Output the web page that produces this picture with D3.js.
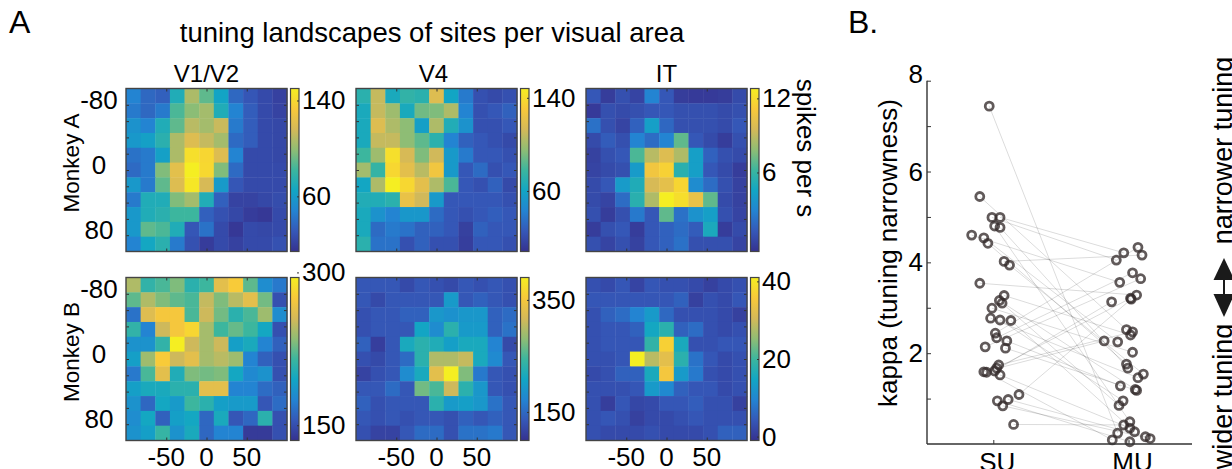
<!DOCTYPE html>
<html>
<head>
<meta charset="utf-8">
<script src="https://cdn.jsdelivr.net/npm/d3@7"></script>
<style>
  body { margin: 0; background: #fff; }
  svg text { font-family: "Liberation Sans", Arial, Helvetica, sans-serif; fill: #000; }
</style>
</head>
<body>
<svg id="fig" width="1232" height="469"></svg>
<script>
// ---- data -------------------------------------------------------------
var figTitle = "tuning landscapes of sites per visual area";
var areas = ["V1/V2", "V4", "IT"];
var monkeys = ["Monkey A", "Monkey B"];
var xTicks = [-50, 0, 50];
var yTicks = [-80, 0, 80];

// mean firing rate (spikes/s) per stimulus position, 11 x 11 grid, rows top to bottom
var mapA_V1V2 = [
  [48,37,34,71,106,89,64,37,30,25,21],
  [44,37,44,85,98,104,71,48,33,25,22],
  [55,48,71,89,109,104,113,44,33,25,24],
  [58,62,75,106,120,112,104,38,33,25,24],
  [41,44,62,106,143,139,120,48,25,25,24],
  [38,44,96,123,150,140,96,38,25,25,25],
  [58,44,89,120,147,117,59,30,25,25,25],
  [44,71,71,96,104,71,34,22,22,24,26],
  [58,71,75,82,82,34,28,24,19,17,25],
  [58,89,85,71,30,41,25,17,25,24,25],
  [48,66,75,44,28,19,25,21,25,25,28]
];
var mapA_V4 = [
  [71,109,64,74,71,117,60,39,22,19,22],
  [64,109,99,64,89,92,103,43,22,25,29],
  [64,117,103,95,57,103,67,50,22,22,25],
  [64,109,109,95,85,71,43,29,25,22,19],
  [78,99,141,114,92,112,54,39,25,25,22],
  [100,75,137,120,106,127,54,25,33,22,25],
  [61,103,148,137,120,103,81,25,22,29,19],
  [67,67,71,123,112,54,25,25,25,25,22],
  [64,50,43,53,53,33,25,22,25,28,25],
  [64,33,39,36,29,29,25,15,29,25,25],
  [71,36,36,22,29,22,22,14,25,25,22]
];
var mapA_IT = [
  [1.2,0.1,0.9,0.4,2.9,1.2,0.1,0.0,0.0,0.1,0.7],
  [0.0,0.9,0.7,0.9,1.2,1.2,0.9,0.9,0.9,0.7,0.9],
  [2.2,0.9,0.4,1.6,4.2,1.8,0.9,0.9,0.9,0.7,1.2],
  [0.7,1.4,0.9,2.9,2.0,2.9,6.9,1.2,0.7,0.1,0.9],
  [0.3,0.9,1.2,6.5,8.8,9.9,8.6,4.2,1.6,0.9,0.7],
  [0.4,0.7,0.9,4.0,10.8,11.5,5.5,4.2,1.2,0.7,0.1],
  [0.7,1.2,4.0,5.1,9.6,10.2,11.7,3.3,2.0,0.9,0.3],
  [0.7,0.4,2.0,5.5,8.6,12.8,12.1,10.4,6.9,0.7,0.3],
  [0.9,0.1,0.9,2.5,1.2,6.9,2.2,3.6,4.2,0.9,0.4],
  [0.1,0.9,1.2,0.1,1.2,1.6,2.0,1.4,4.9,0.1,0.7],
  [0.9,0.4,0.9,0.3,1.2,1.6,2.2,0.9,0.9,0.9,0.4]
];
var mapB_V1V2 = [
  [244,210,218,231,207,215,263,276,223,180,170],
  [223,244,231,223,218,250,231,247,263,228,151],
  [167,260,273,273,218,253,228,207,218,239,180],
  [210,175,253,273,282,241,215,225,215,196,151],
  [183,183,210,295,253,241,253,191,199,175,159],
  [191,239,276,253,263,241,247,239,175,159,151],
  [170,218,263,202,231,228,231,196,178,183,151],
  [191,199,199,207,207,263,263,175,175,164,159],
  [183,162,196,188,215,207,191,188,188,154,164],
  [180,196,159,191,196,162,199,154,162,207,151],
  [183,191,212,183,199,162,175,175,140,140,151]
];
var mapB_V4 = [
  [134,134,134,122,134,128,122,134,128,134,128],
  [134,122,134,134,134,134,195,134,143,134,128],
  [128,134,134,143,143,192,186,192,192,143,151],
  [128,134,134,134,207,180,230,195,195,143,157],
  [143,111,134,215,230,221,201,215,215,172,122],
  [128,122,134,151,230,297,297,309,215,178,134],
  [116,128,134,180,215,332,390,274,163,134,128],
  [134,134,151,134,268,250,314,230,192,134,128],
  [143,128,134,134,134,230,195,201,192,157,134],
  [134,128,134,128,134,134,128,143,134,143,134],
  [128,116,116,134,151,151,128,157,157,163,134]
];
var mapB_IT = [
  [3.2,2.4,4.0,1.5,4.0,3.2,3.2,2.4,1.1,2.4,3.2],
  [4.0,4.0,4.0,4.0,4.0,4.0,5.3,1.1,3.2,2.4,4.0],
  [3.2,5.3,6.6,9.5,12.9,6.1,3.2,3.2,3.2,2.4,1.1],
  [3.2,4.0,4.0,5.3,15.0,17.9,5.3,6.6,3.2,2.4,3.2],
  [3.2,4.0,4.0,4.0,18.7,36.8,15.8,3.2,3.2,4.0,4.0],
  [3.2,3.2,4.0,41.0,28.4,32.6,17.9,7.4,4.0,2.4,3.2],
  [2.4,3.2,5.3,5.3,15.8,35.1,12.9,8.2,3.2,2.4,3.2],
  [3.2,3.2,3.2,4.0,12.9,10.3,5.3,4.0,4.0,2.4,3.2],
  [3.2,0.7,4.0,1.9,2.4,4.0,4.0,4.9,3.2,3.2,1.1],
  [3.2,4.0,3.2,1.1,2.4,2.4,3.2,4.0,3.2,3.2,3.2],
  [3.2,2.4,2.4,2.4,3.2,2.4,2.4,2.4,3.2,5.3,5.3]
];

// colour limits and colorbar labels, same order (A: V1/V2, V4, IT, then B)
var cbarLimits = [[14,150],[8,148],[-0.4,12.8],[135,295],[99,390],[-1,41]];
var cbarTicks = [[60,140],[60,140],[6,12],[150,300],[150,350],[0,20,40]];
var cbarTitle = "spikes per s";

// panel B: kappa for single units and multi units of the same site
var groups = ["SU", "MU"];
var kappaTicks = [2, 4, 6, 8];
var suKappa  = [7.44,5.45,4.99,4.99,4.80,4.77,4.60,4.54,4.42,4.02,3.94,3.54,3.27,3.16,3.10,2.99,2.77,2.73,2.72,2.44,2.34,2.27,2.14,2.11,1.74,1.67,1.59,1.58,1.61,1.52,0.95,0.98,0.84,1.09,0.43];
var suJitter = [-0.03,-0.10,-0.01,0.05,0.01,0.05,-0.16,-0.07,-0.04,0.08,0.12,-0.10,0.08,0.045,0.065,-0.01,-0.02,0.05,0.13,0.015,0.025,0.10,-0.06,0.09,0.04,0.025,-0.07,-0.05,0.01,0.05,0.03,0.11,0.07,0.19,0.15];
var muKappa  = [0.24,2.52,4.05,4.21,0.49,1.67,3.56,2.25,1.76,4.16,1.54,3.28,2.40,1.20,0.85,2.02,1.46,0.95,0.27,4.33,3.77,1.28,3.64,1.18,2.47,3.21,2.27,0.09,3.13,0.35,0.05,0.16,0.12,3.19,0.42];
var muJitter = [-0.08,-0.015,-0.09,-0.035,0.01,-0.005,-0.065,-0.08,-0.015,0.10,0.11,0.06,0.015,0.05,-0.07,0.03,0.07,-0.04,0.045,0.07,0.03,-0.06,0.09,0.06,0.03,0.015,-0.18,-0.12,-0.125,0.01,0.01,0.125,0.16,0.02,-0.035];

// parula-like map, toned down the way the printed figure looks
var parula = ["#36318f","#3558b8","#2384d2","#12a6c4","#3cb69e","#90bd74","#d5b958","#f8c93a","#f5ee22"];

// ---- drawing ----------------------------------------------------------
var svg = d3.select("#fig");
var maps = [[mapA_V1V2, mapA_V4, mapA_IT], [mapB_V1V2, mapB_V4, mapB_IT]];

var mapW = 161, mapH = 163, cbW = 8.5, cbGap = 3.5;
var colX = [126, 356, 586];
var rowY = [88.5, 277.5];

function clean(sel) { sel.select(".domain").remove(); }

svg.append("text").attr("x", 9).attr("y", 33).attr("font-size", 32).text("A");
svg.append("text").attr("x", 848).attr("y", 33).attr("font-size", 32).text("B.");
svg.append("text")
    .attr("x", 432).attr("y", 42)
    .attr("text-anchor", "middle")
    .attr("font-size", 27.5)
    .text(figTitle);

var grad = svg.append("defs").append("linearGradient")
    .attr("id", "parula")
    .attr("x1", 0).attr("y1", 1).attr("x2", 0).attr("y2", 0);
grad.selectAll("stop")
    .data(parula)
    .enter().append("stop")
    .attr("offset", function(d, i) { return i / (parula.length - 1); })
    .attr("stop-color", function(d) { return d; });

function drawMap(m, r, c) {
    var k = r * areas.length + c;
    var x0 = colX[c], y0 = rowY[r];
    var lim = cbarLimits[k];
    var g = svg.append("g").attr("color", "#333");

    var x = d3.scaleLinear().domain([-100, 100]).range([x0, x0 + mapW]);
    var y = d3.scaleLinear().domain([-100, 100]).range([y0, y0 + mapH]);
    var bx = d3.scaleBand().domain(d3.range(m[0].length)).range([x0, x0 + mapW]);
    var by = d3.scaleBand().domain(d3.range(m.length)).range([y0, y0 + mapH]);
    var color = d3.scaleLinear()
        .domain(parula.map(function(d, i) { return lim[0] + i * (lim[1] - lim[0]) / (parula.length - 1); }))
        .range(parula)
        .clamp(true);

    var cells = [];
    m.forEach(function(row, i) {
        row.forEach(function(v, j) { cells.push({i: i, j: j, v: v}); });
    });

    g.selectAll(".cell")
        .data(cells)
        .enter().append("rect")
        .attr("class", "cell")
        .attr("x", function(d) { return bx(d.j); })
        .attr("y", function(d) { return by(d.i); })
        .attr("width", bx.bandwidth() + 0.4)
        .attr("height", by.bandwidth() + 0.4)
        .attr("fill", function(d) { return color(d.v); });

    var yMinor = d3.range(-80, 81, 20);
    g.append("g").attr("transform", "translate(0," + y0 + ")")
        .call(d3.axisTop(x).tickValues(xTicks).tickSize(-3).tickFormat("")).call(clean);
    g.append("g").attr("transform", "translate(0," + (y0 + mapH) + ")")
        .call(d3.axisBottom(x).tickValues(xTicks).tickSize(-3).tickFormat("")).call(clean);
    g.append("g").attr("transform", "translate(" + x0 + ",0)")
        .call(d3.axisLeft(y).tickValues(yMinor).tickSize(-3).tickFormat("")).call(clean);
    g.append("g").attr("transform", "translate(" + (x0 + mapW) + ",0)")
        .call(d3.axisRight(y).tickValues(yMinor).tickSize(-3).tickFormat("")).call(clean);

    g.append("rect")
        .attr("x", x0).attr("y", y0)
        .attr("width", mapW).attr("height", mapH)
        .attr("fill", "none")
        .attr("stroke", "#444")
        .attr("stroke-width", 1.4);

    // colorbar
    var cx = x0 + mapW + cbGap;
    var cb = d3.scaleLinear().domain(lim).range([y0 + mapH, y0]);
    g.append("rect")
        .attr("x", cx).attr("y", y0)
        .attr("width", cbW).attr("height", mapH)
        .attr("fill", "url(#parula)")
        .attr("stroke", "#444")
        .attr("stroke-width", 1.2);
    g.append("g").attr("transform", "translate(" + (cx + cbW) + ",0)")
        .call(d3.axisRight(cb).tickValues(cbarTicks[k]).tickSize(-2).tickFormat("")).call(clean);
    g.selectAll(".cbl")
        .data(cbarTicks[k])
        .enter().append("text")
        .attr("x", cx + cbW + 3)
        .attr("y", function(d) { return cb(d); })
        .attr("dominant-baseline", "central")
        .attr("font-size", 26)
        .text(function(d) { return d; });

    if (c === 0) {
        g.selectAll(".yl")
            .data(yTicks)
            .enter().append("text")
            .attr("x", 99)
            .attr("y", function(d) { return y(d) - 5; })
            .attr("text-anchor", "middle")
            .attr("dominant-baseline", "central")
            .attr("font-size", 26)
            .text(function(d) { return d; });
        g.append("text")
            .attr("transform", "translate(79," + (y0 + mapH / 2 - 7) + ") rotate(-90)")
            .attr("text-anchor", "middle")
            .attr("font-size", 22.5)
            .text(monkeys[r]);
    }
    if (r === 0) {
        g.append("text")
            .attr("x", x0 + mapW / 2 - (c === 1 ? 3 : 0))
            .attr("y", y0 - 6.5)
            .attr("text-anchor", "middle")
            .attr("font-size", 24)
            .text(areas[c]);
    }
    if (r === maps.length - 1) {
        g.selectAll(".xl")
            .data(xTicks)
            .enter().append("text")
            .attr("x", function(d) { return x(d); })
            .attr("y", 466)
            .attr("text-anchor", "middle")
            .attr("font-size", 26)
            .text(function(d) { return d; });
    }
}

maps.forEach(function(row, r) {
    row.forEach(function(m, c) { drawMap(m, r, c); });
});

svg.append("text")
    .attr("transform", "translate(797,148) rotate(90)")
    .attr("text-anchor", "middle")
    .attr("font-size", 26)
    .text(cbarTitle);

// ---- panel B ----------------------------------------------------------
var kx = d3.scaleLinear().domain([1, 2]).range([993.3, 1128.5]);
var ky = d3.scaleLinear().domain([0, 8]).range([444, 80.7]);
var axL = 927, axR = 1192;
var pg = svg.append("g").attr("color", "#333");

pg.selectAll(".pair")
    .data(suKappa)
    .enter().append("line")
    .attr("class", "pair")
    .attr("x1", function(d, i) { return kx(1 + suJitter[i]); })
    .attr("y1", function(d) { return ky(d); })
    .attr("x2", function(d, i) { return kx(2 + muJitter[i]); })
    .attr("y2", function(d, i) { return ky(muKappa[i]); })
    .attr("stroke", "#000")
    .attr("stroke-opacity", 0.14)
    .attr("stroke-width", 1);

var pts = [];
suKappa.forEach(function(d, i) { pts.push({g: 1 + suJitter[i], k: d}); });
muKappa.forEach(function(d, i) { pts.push({g: 2 + muJitter[i], k: d}); });

pg.selectAll(".pt")
    .data(pts)
    .enter().append("circle")
    .attr("class", "pt")
    .attr("cx", function(d) { return kx(d.g); })
    .attr("cy", function(d) { return ky(d.k); })
    .attr("r", 4)
    .attr("fill", "none")
    .attr("stroke", "#352b2b")
    .attr("stroke-opacity", 0.78)
    .attr("stroke-width", 2.8);

pg.append("line")
    .attr("x1", axL).attr("x2", axL)
    .attr("y1", ky(0)).attr("y2", ky(8))
    .attr("stroke", "#333").attr("stroke-width", 1.4);
pg.append("line")
    .attr("x1", axL).attr("x2", axR)
    .attr("y1", ky(0)).attr("y2", ky(0))
    .attr("stroke", "#333").attr("stroke-width", 1.4);

pg.append("g").attr("transform", "translate(" + axL + ",0)")
    .call(d3.axisLeft(ky).tickValues(d3.range(1, 9)).tickSize(-4).tickFormat("")).call(clean);
pg.append("g").attr("transform", "translate(0," + ky(0) + ")")
    .call(d3.axisBottom(kx).tickValues(groups.map(function(d, i) { return i + 1; }))
        .tickSize(-4).tickFormat("")).call(clean);

pg.selectAll(".kl")
    .data(kappaTicks)
    .enter().append("text")
    .attr("x", axL - 4)
    .attr("y", function(d) { return ky(d) - (d === 8 ? 7 : 0); })
    .attr("text-anchor", "end")
    .attr("dominant-baseline", "central")
    .attr("font-size", 26)
    .text(function(d) { return d; });

pg.selectAll(".gl")
    .data(groups)
    .enter().append("text")
    .attr("x", function(d, i) { return kx(i + 1) + 4; })
    .attr("y", 471)
    .attr("text-anchor", "middle")
    .attr("font-size", 26)
    .text(function(d) { return d; });

pg.append("text")
    .attr("transform", "translate(897,253) rotate(-90)")
    .attr("text-anchor", "middle")
    .attr("font-size", 26)
    .text("kappa (tuning narrowness)");

// side annotation: wider <-> narrower
pg.append("text")
    .attr("transform", "translate(1232,150.5) rotate(-90)")
    .attr("text-anchor", "middle")
    .attr("font-size", 27)
    .text("narrower tuning");
pg.append("text")
    .attr("transform", "translate(1232,396.5) rotate(-90)")
    .attr("text-anchor", "middle")
    .attr("font-size", 27)
    .text("wider tuning");

var ax = 1224, ay = 287.5;
var arrow = pg.append("g").attr("transform", "translate(" + ax + "," + ay + ")");
arrow.append("path").attr("d", "M0,-29.5 L10.5,-7.5 L-10.5,-7.5 Z").attr("fill", "#1a1a1a");
arrow.append("path").attr("d", "M0,29.5 L10.5,6.5 L-10.5,6.5 Z").attr("fill", "#1a1a1a");
arrow.append("line").attr("x1", 0).attr("x2", 0).attr("y1", -8).attr("y2", 7)
    .attr("stroke", "#1a1a1a").attr("stroke-width", 2);
</script>
</body>
</html>
